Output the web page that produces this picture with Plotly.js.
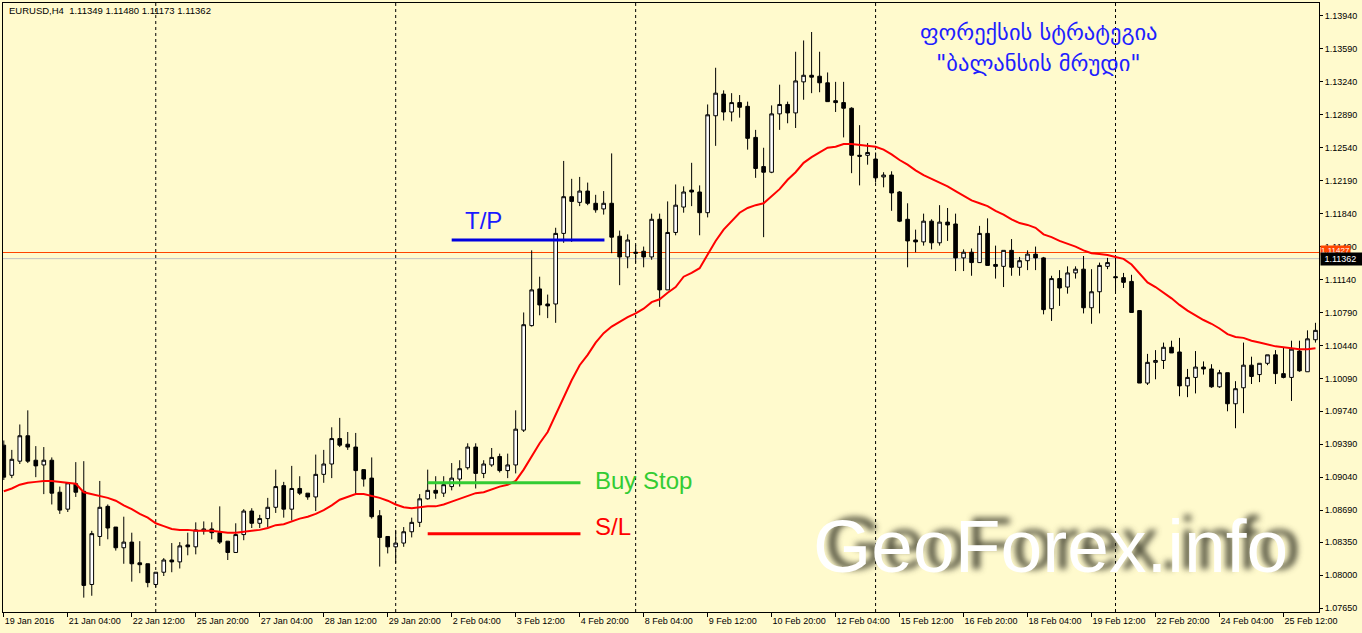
<!DOCTYPE html>
<html>
<head>
<meta charset="utf-8">
<script src="https://cdn.plot.ly/plotly-3.0.1.min.js"></script>
<style>
  html, body { margin: 0; padding: 0; background: #fffacd; }
  #chart { width: 1362px; height: 633px; }
</style>
</head>
<body>
<div id="chart"></div>
<script>
// EURUSD H4 bars, from 19 Jan 2016 20:00 onward
const open = [1.0938,1.0906,1.0921,1.0948,1.0922,1.0917,1.0922,1.0888,1.0870,1.0897,
1.0889,1.0790,1.0841,1.0873,1.0851,1.0829,1.0835,1.0813,1.0812,1.0790,
1.0803,1.0816,1.0814,1.0832,1.0830,1.0847,1.0849,1.0845,1.0836,1.0824,
1.0843,1.0868,1.0855,1.0860,1.0872,1.0895,1.0870,1.0892,1.0887,1.0883,
1.0907,1.0918,1.0945,1.0939,1.0936,1.0912,1.0903,1.0863,1.0841,1.0830,
1.0834,1.0846,1.0856,1.0881,1.0890,1.0887,1.0894,1.0902,1.0914,1.0936,
1.0908,1.0917,1.0926,1.0911,1.0917,1.0954,1.1065,1.1104,1.1088,1.1088,
1.1163,1.1202,1.1196,1.1208,1.1195,1.1189,1.1195,1.1160,1.1138,1.1143,
1.1144,1.1138,1.1178,1.1103,1.1164,1.1191,1.1209,1.1207,1.1185,1.1288,
1.1311,1.1292,1.1302,1.1298,1.1265,1.1234,1.1228,1.1290,1.1300,1.1291,
1.1324,1.1331,1.1330,1.1323,1.1304,1.1302,1.1296,1.1246,1.1246,1.1242,
1.1223,1.1225,1.1207,1.1178,1.1156,1.1154,1.1176,1.1153,1.1175,1.1173,
1.1137,1.1143,1.1132,1.1163,1.1130,1.1128,1.1145,1.1127,1.1134,1.1141,
1.1137,1.1083,1.1115,1.1106,1.1121,1.1125,1.1084,1.1101,1.1128,1.1117,
1.1116,1.1112,1.1081,1.1004,1.1026,1.1028,1.1042,1.1037,1.1001,1.1010,
1.1021,1.1019,1.1000,1.1015,1.0982,1.0999,1.1023,1.1013,1.1025,1.1034,
1.1014,1.1010,1.1038,1.1016,1.1050];

const high = [1.0943,1.0933,1.0960,1.0975,1.0937,1.0936,1.0925,1.0894,1.0898,1.0920,
1.0921,1.0847,1.0900,1.0875,1.0851,1.0862,1.0845,1.0836,1.0812,1.0803,
1.0818,1.0834,1.0835,1.0845,1.0856,1.0857,1.0856,1.0873,1.0836,1.0855,
1.0870,1.0871,1.0864,1.0882,1.0912,1.0899,1.0916,1.0905,1.0887,1.0928,
1.0933,1.0957,1.0967,1.0952,1.0951,1.0912,1.0925,1.0869,1.0841,1.0848,
1.0851,1.0861,1.0886,1.0912,1.0905,1.0905,1.0919,1.0922,1.0940,1.0940,
1.0922,1.0935,1.0929,1.0929,1.0975,1.1079,1.1145,1.1117,1.1098,1.1169,
1.1240,1.1221,1.1223,1.1217,1.1204,1.1208,1.1248,1.1166,1.1162,1.1151,
1.1149,1.1184,1.1184,1.1197,1.1215,1.1213,1.1238,1.1214,1.1300,1.1339,
1.1315,1.1312,1.1310,1.1303,1.1273,1.1254,1.1299,1.1321,1.1303,1.1356,
1.1368,1.1377,1.1356,1.1334,1.1324,1.1324,1.1297,1.1278,1.1259,1.1249,
1.1228,1.1229,1.1208,1.1195,1.1167,1.1184,1.1178,1.1193,1.1190,1.1184,
1.1146,1.1147,1.1171,1.1179,1.1150,1.1145,1.1157,1.1138,1.1145,1.1149,
1.1138,1.1118,1.1124,1.1128,1.1128,1.1139,1.1125,1.1132,1.1137,1.1140,
1.1121,1.1119,1.1081,1.1035,1.1039,1.1047,1.1049,1.1052,1.1019,1.1038,
1.1027,1.1024,1.1018,1.1015,1.1006,1.1047,1.1032,1.1025,1.1034,1.1039,
1.1042,1.1049,1.1049,1.1060,1.1068];

const low = [1.0901,1.0903,1.0918,1.0919,1.0904,1.0886,1.0875,1.0865,1.0867,1.0883,
1.0776,1.0778,1.0831,1.0838,1.0826,1.0812,1.0793,1.0802,1.0787,1.0787,
1.0799,1.0803,1.0807,1.0821,1.0822,1.0843,1.0838,1.0833,1.0816,1.0824,
1.0837,1.0850,1.0850,1.0851,1.0866,1.0861,1.0858,1.0885,1.0880,1.0868,
1.0898,1.0903,1.0936,1.0933,1.0886,1.0894,1.0860,1.0809,1.0823,1.0813,
1.0830,1.0840,1.0851,1.0880,1.0881,1.0883,1.0890,1.0894,1.0912,1.0892,
1.0903,1.0915,1.0909,1.0903,1.0908,1.0952,1.1064,1.1076,1.1073,1.1068,
1.1153,1.1154,1.1192,1.1193,1.1185,1.1183,1.1142,1.1108,1.1126,1.1132,
1.1127,1.1135,1.1085,1.1103,1.1161,1.1185,1.1192,1.1161,1.1180,1.1256,
1.1283,1.1282,1.1286,1.1252,1.1222,1.1159,1.1227,1.1273,1.1280,1.1275,
1.1305,1.1312,1.1313,1.1303,1.1292,1.1265,1.1227,1.1214,1.1236,1.1217,
1.1212,1.1187,1.1175,1.1127,1.1143,1.1150,1.1146,1.1150,1.1155,1.1123,
1.1123,1.1118,1.1132,1.1129,1.1115,1.1106,1.1118,1.1118,1.1124,1.1124,
1.1077,1.1070,1.1086,1.1099,1.1115,1.1078,1.1067,1.1078,1.1125,1.1100,
1.1105,1.1079,1.1004,1.1002,1.1008,1.1019,1.1036,1.0990,1.0989,1.0993,
1.1013,1.0999,1.0999,1.0974,1.0956,1.0972,1.1003,1.1005,1.1023,1.1003,
1.1009,1.0985,1.1016,1.1016,1.1047];

const close = [1.0904,1.0923,1.0948,1.0921,1.0916,1.0922,1.0887,1.0869,1.0898,1.0888,
1.0789,1.0844,1.0872,1.0850,1.0829,1.0835,1.0812,1.0811,1.0792,1.0803,
1.0816,1.0814,1.0831,1.0830,1.0848,1.0849,1.0845,1.0835,1.0824,1.0843,
1.0868,1.0855,1.0860,1.0872,1.0894,1.0870,1.0892,1.0887,1.0883,1.0907,
1.0918,1.0945,1.0938,1.0936,1.0911,1.0902,1.0862,1.0840,1.0830,1.0834,
1.0846,1.0856,1.0881,1.0890,1.0887,1.0896,1.0903,1.0913,1.0936,1.0908,
1.0918,1.0925,1.0911,1.0917,1.0955,1.1066,1.1103,1.1087,1.1086,1.1163,
1.1202,1.1197,1.1208,1.1195,1.1188,1.1195,1.1159,1.1138,1.1156,1.1142,
1.1138,1.1178,1.1103,1.1164,1.1193,1.1207,1.1207,1.1185,1.1289,1.1312,
1.1292,1.1302,1.1297,1.1264,1.1232,1.1228,1.1290,1.1300,1.1291,1.1325,
1.1331,1.1329,1.1323,1.1303,1.1302,1.1296,1.1246,1.1245,1.1249,1.1222,
1.1225,1.1206,1.1176,1.1155,1.1154,1.1176,1.1153,1.1175,1.1172,1.1137,
1.1143,1.1132,1.1163,1.1129,1.1128,1.1145,1.1127,1.1134,1.1141,1.1137,
1.1082,1.1115,1.1105,1.1121,1.1125,1.1084,1.1101,1.1129,1.1132,1.1116,
1.1111,1.1079,1.1004,1.1026,1.1028,1.1042,1.1036,1.1001,1.1010,1.1021,
1.1019,1.1000,1.1015,1.0982,1.0998,1.1023,1.1011,1.1025,1.1034,1.1014,
1.1010,1.1040,1.1017,1.1051,1.1060];

// moving average (red line)
const ma = [1.0889,1.0892,1.0896,1.0898,1.0899,1.0900,1.0900,1.0899,1.0898,1.0897,
1.0888,1.0886,1.0884,1.0882,1.0879,1.0874,1.0870,1.0865,1.0861,1.0855,
1.0852,1.0849,1.0848,1.0848,1.0847,1.0847,1.0847,1.0846,1.0845,1.0845,
1.0846,1.0847,1.0848,1.0850,1.0853,1.0854,1.0857,1.0860,1.0862,1.0865,
1.0869,1.0874,1.0880,1.0883,1.0886,1.0886,1.0884,1.0882,1.0879,1.0875,
1.0872,1.0871,1.0872,1.0873,1.0873,1.0875,1.0878,1.0881,1.0884,1.0887,
1.0888,1.0891,1.0894,1.0896,1.0900,1.0912,1.0926,1.0940,1.0952,1.0970,
1.0988,1.1007,1.1023,1.1034,1.1047,1.1057,1.1064,1.1069,1.1074,1.1078,
1.1083,1.1090,1.1093,1.1100,1.1106,1.1117,1.1121,1.1126,1.1140,1.1155,
1.1167,1.1176,1.1185,1.1190,1.1193,1.1195,1.1202,1.1210,1.1220,1.1228,
1.1238,1.1244,1.1249,1.1254,1.1255,1.1258,1.1258,1.1257,1.1256,1.1255,
1.1252,1.1247,1.1241,1.1236,1.1230,1.1225,1.1221,1.1217,1.1213,1.1208,
1.1203,1.1198,1.1195,1.1192,1.1187,1.1183,1.1178,1.1174,1.1172,1.1169,
1.1162,1.1159,1.1155,1.1152,1.1149,1.1145,1.1142,1.1141,1.1140,1.1138,
1.1136,1.1130,1.1120,1.1111,1.1106,1.1100,1.1094,1.1087,1.1081,1.1076,
1.1071,1.1067,1.1062,1.1056,1.1053,1.1052,1.1049,1.1047,1.1045,1.1043,
1.1042,1.1041,1.1040,1.1040,1.1041];

// trade levels
const tpLevel = 1.1156;
const buyStopLevel = 1.0898;
const slLevel = 1.0844;
const askPrice = 1.11427;
const bidPrice = 1.11362;

// axis labels
const xTickLabels = ["19 Jan 2016","21 Jan 04:00","22 Jan 12:00","25 Jan 20:00","27 Jan 04:00",
  "28 Jan 12:00","29 Jan 20:00","2 Feb 04:00","3 Feb 12:00","4 Feb 20:00","8 Feb 04:00",
  "9 Feb 12:00","10 Feb 20:00","12 Feb 04:00","15 Feb 12:00","16 Feb 20:00","18 Feb 04:00",
  "19 Feb 12:00","22 Feb 20:00","24 Feb 04:00","25 Feb 12:00"];
const yTickVals = [1.07650,1.08000,1.08350,1.08690,1.09040,1.09390,1.09740,1.10090,1.10440,
  1.10790,1.11140,1.11490,1.11840,1.12190,1.12540,1.12890,1.13240,1.13590,1.13940];

const headerText = "EURUSD,H4\u00a0\u00a01.11349 1.11480 1.11173 1.11362";
const titleLine1 = "ფორექსის სტრატეგია";
const titleLine2 = "\"ბალანსის მრუდი\"";

// bar index and bar times (H4, weekdays only)
const n = close.length;
const idx = open.map((_, i) => i);
const times = [];
{
  let t = Date.UTC(2016, 0, 19, 20);
  while (times.length < n) {
    const d = new Date(t);
    const wd = d.getUTCDay();
    if (wd !== 0 && wd !== 6) times.push(d);
    t += 4 * 3600 * 1000;
  }
}
const separators = [];
times.forEach((d, i) => { if (d.getUTCDay() === 1 && d.getUTCHours() === 0) separators.push(i); });

const BG = '#fffacd';

const traces = [
  {
    type: 'candlestick',
    x: idx, open: open, high: high, low: low, close: close,
    increasing: { line: { color: '#000000', width: 1 }, fillcolor: '#ffffff' },
    decreasing: { line: { color: '#000000', width: 1 }, fillcolor: '#000000' },
    whiskerwidth: 0,
    hoverinfo: 'skip',
    showlegend: false
  },
  {
    type: 'scatter', mode: 'lines',
    x: idx, y: ma,
    line: { color: '#ff0000', width: 2 },
    hoverinfo: 'skip', showlegend: false
  }
];

const shapes = [];
separators.forEach(i => shapes.push({
  type: 'line', xref: 'x', yref: 'paper', x0: i, x1: i, y0: 0, y1: 1,
  line: { color: '#000000', width: 1, dash: '3px,3px' }, layer: 'below'
}));
shapes.push({ type: 'line', xref: 'paper', yref: 'y', x0: 0, x1: 1, y0: askPrice, y1: askPrice,
  line: { color: '#ff4500', width: 1 }, layer: 'below' });
shapes.push({ type: 'line', xref: 'paper', yref: 'y', x0: 0, x1: 1, y0: bidPrice, y1: bidPrice,
  line: { color: '#c0c0c0', width: 1 }, layer: 'below' });
shapes.push({ type: 'line', xref: 'x', yref: 'y', x0: 56, x1: 75.1, y0: tpLevel, y1: tpLevel,
  line: { color: '#0000e0', width: 3 } });
shapes.push({ type: 'line', xref: 'x', yref: 'y', x0: 53, x1: 72.1, y0: buyStopLevel, y1: buyStopLevel,
  line: { color: '#33cc33', width: 3 } });
shapes.push({ type: 'line', xref: 'x', yref: 'y', x0: 53, x1: 72.1, y0: slLevel, y1: slLevel,
  line: { color: '#ff0000', width: 3 } });

const annotations = [
  { text: headerText, xref: 'paper', yref: 'paper', x: 0.003, y: 0.987, xanchor: 'left', yanchor: 'middle',
    showarrow: false, font: { family: 'Liberation Sans, Arial', size: 9.5, color: '#000' } },
  { text: 'T/P', xref: 'x', yref: 'y', x: 57.4, y: 1.1177, xanchor: 'left', yanchor: 'middle',
    showarrow: false, font: { family: 'Liberation Sans, Arial', size: 24, color: '#1a1aff' } },
  { text: 'Buy Stop', xref: 'x', yref: 'y', x: 73.7, y: 1.0900, xanchor: 'left', yanchor: 'middle',
    showarrow: false, font: { family: 'Liberation Sans, Arial', size: 24, color: '#33cc33' } },
  { text: 'S/L', xref: 'x', yref: 'y', x: 73.7, y: 1.0852, xanchor: 'left', yanchor: 'middle',
    showarrow: false, font: { family: 'Liberation Sans, Arial', size: 24, color: '#ff0000' } },
  { text: titleLine1, xref: 'paper', yref: 'paper', x: 0.787, y: 0.952, xanchor: 'center', yanchor: 'middle',
    showarrow: false, font: { family: 'DejaVu Sans', size: 22.5, color: '#1e1eff' } },
  { text: titleLine2, xref: 'paper', yref: 'paper', x: 0.787, y: 0.902, xanchor: 'center', yanchor: 'middle',
    showarrow: false, font: { family: 'DejaVu Sans', size: 22.5, color: '#1e1eff' } },
  { text: 'GeoForex.info', xref: 'paper', yref: 'paper', x: 0.7956, y: 0.108, xanchor: 'center', yanchor: 'middle',
    showarrow: false, font: { family: 'Liberation Sans, Arial', size: 75, color: '#ffffff',
      shadow: '12px -3px 6px rgba(45,45,30,0.85)' } },
  { text: askPrice.toFixed(5), xref: 'paper', yref: 'y', x: 1, y: askPrice, xanchor: 'left', yanchor: 'bottom',
    yshift: -3, xshift: 1, showarrow: false, bgcolor: '#ff4500', borderpad: 0,
    font: { family: 'Liberation Sans, Arial', size: 8, color: '#ffffff' } },
  { text: '\u00a0' + bidPrice.toFixed(5) + '\u00a0\u00a0', xref: 'paper', yref: 'y', x: 1, y: bidPrice, xanchor: 'left', yanchor: 'middle',
    xshift: 1, showarrow: false, bgcolor: '#000000', borderpad: 1,
    font: { family: 'Liberation Sans, Arial', size: 9, color: '#ffffff' } }
];

const layout = {
  width: 1362, height: 633,
  margin: { l: 3, r: 43, t: 3, b: 21, pad: 0 },
  paper_bgcolor: BG, plot_bgcolor: BG,
  showlegend: false,
  hovermode: false,
  boxgap: 0.35,
  xaxis: {
    type: 'linear',
    range: [-0.1, 164.44],
    showgrid: false, zeroline: false,
    showline: true, mirror: true, linecolor: '#000000', linewidth: 1,
    ticks: 'outside', ticklen: 4, tickcolor: '#000000', tickwidth: 1,
    tickvals: xTickLabels.map((_, k) => k * 8),
    ticktext: xTickLabels,
    ticklabelposition: 'outside right',
    tickfont: { family: 'Liberation Sans, Arial', size: 9, color: '#000000' },
    rangeslider: { visible: false },
    fixedrange: true
  },
  yaxis: {
    side: 'right',
    range: [1.076075, 1.14078],
    showgrid: false, zeroline: false,
    showline: true, mirror: true, linecolor: '#000000', linewidth: 1,
    ticks: 'outside', ticklen: 3, tickcolor: '#000000', tickwidth: 1,
    tickvals: yTickVals,
    ticktext: yTickVals.map(v => v.toFixed(5)),
    tickfont: { family: 'Liberation Sans, Arial', size: 9, color: '#000000' },
    fixedrange: true
  },
  shapes: shapes,
  annotations: annotations
};

Plotly.newPlot('chart', traces, layout, { displayModeBar: false, staticPlot: true });
</script>
</body>
</html>
